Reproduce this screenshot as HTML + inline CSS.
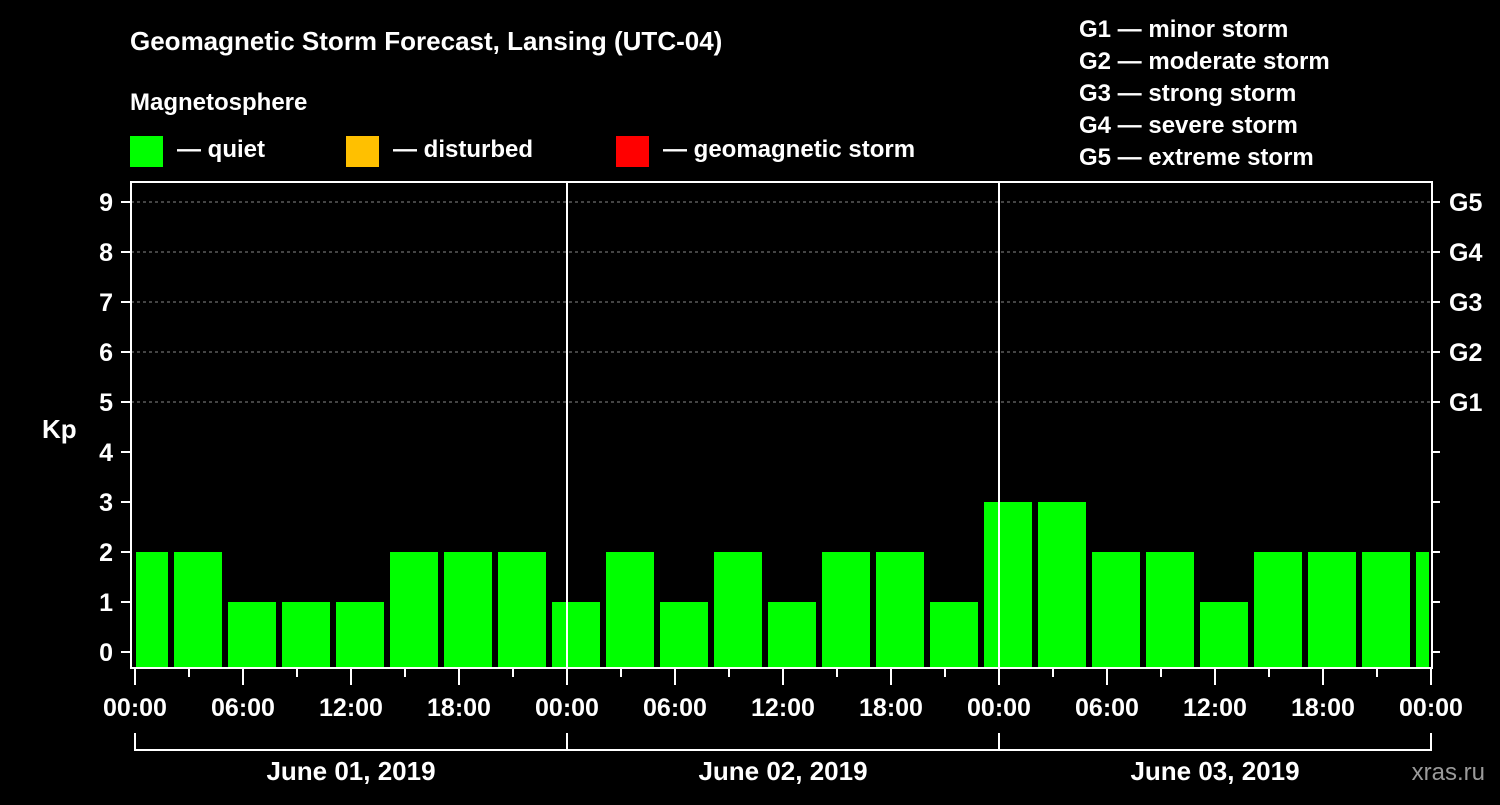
<!DOCTYPE html>
<html><head><meta charset="utf-8"><style>
body{margin:0;background:#000;width:1500px;height:800px;overflow:hidden}
svg text{font-family:"Liberation Sans",Arial,sans-serif;font-weight:bold;fill:#fff}
</style></head><body>
<svg id="c" width="1500" height="800">
<text x="130" y="50" font-size="26">Geomagnetic Storm Forecast, Lansing (UTC-04)</text>
<text x="130" y="110" font-size="24">Magnetosphere</text>
<rect x="130" y="136" width="33" height="31" fill="#00ff00"/>
<text x="177" y="157" font-size="24">— quiet</text>
<rect x="346" y="136" width="33" height="31" fill="#ffc000"/>
<text x="393" y="157" font-size="24">— disturbed</text>
<rect x="616" y="136" width="33" height="31" fill="#ff0000"/>
<text x="663" y="157" font-size="24">— geomagnetic storm</text>
<text x="1079" y="37" font-size="24">G1 — minor storm</text>
<text x="1079" y="69" font-size="24">G2 — moderate storm</text>
<text x="1079" y="101" font-size="24">G3 — strong storm</text>
<text x="1079" y="133" font-size="24">G4 — severe storm</text>
<text x="1079" y="165" font-size="24">G5 — extreme storm</text>
<text x="42" y="438" font-size="26">Kp</text>
<text x="1485" y="780" font-size="24" text-anchor="end" fill="#888" style="fill:#9a9a9a;font-weight:normal">xras.ru</text>
<g id="g"></g>
</svg>
<script>
const kpValues=[2,2,1,1,1,2,2,2,1,2,1,2,1,2,2,1,3,3,2,2,1,2,2,2,2];
const binStartHours=[-1,2,5,8,11,14,17,20,23,26,29,32,35,38,41,44,47,50,53,56,59,62,65,68,71];
const yTicks=[0,1,2,3,4,5,6,7,8,9];
const gLabels=['G1','G2','G3','G4','G5'];
const dayLabels=['June 01, 2019','June 02, 2019','June 03, 2019'];
const hourLabels=['00:00','06:00','12:00','18:00'];
const NS='http://www.w3.org/2000/svg';
const g=document.getElementById('g');
const X0=135,PXH=18,L=131,R=1432,T=182,B=668;
const x=h=>X0+h*PXH, y=v=>652-v*50;
function mk(t,a){const e=document.createElementNS(NS,t);for(const k in a)e.setAttribute(k,a[k]);g.appendChild(e);return e;}
// gridlines
for(let v=5;v<=9;v++){const e=mk('line',{x1:L,x2:R,y1:y(v),y2:y(v),stroke:'#888','stroke-dasharray':'3,3','stroke-width':1});

}
// bars
kpValues.forEach((v,i)=>{let a=Math.max(x(binStartHours[i])+3,X0+1),b=Math.min(x(binStartHours[i])+51,x(72)-2);
const c=v>=5?'#ff0000':(v>=4?'#ffc000':'#00ff00');
const e=mk('rect',{x:a,y:y(v),width:b-a,height:B-y(v),fill:c});

});
// day separators
[1,2].forEach(d=>{const e=mk('line',{x1:x(24*d),x2:x(24*d),y1:T,y2:B,stroke:'#fff','stroke-width':2});

});
// frame
const f=mk('path',{d:`M${L} ${T}H${R}V${B}H${L}Z`,fill:'none',stroke:'#fff','stroke-width':2});


yTicks.forEach(v=>{mk('line',{x1:L-10,x2:L,y1:y(v),y2:y(v),stroke:'#fff','stroke-width':2});
mk('line',{x1:R,x2:R+8,y1:y(v),y2:y(v),stroke:'#fff','stroke-width':2});
const t=mk('text',{x:L-18,y:y(v)+9,'font-size':25,'text-anchor':'end'});t.textContent=v;

});
gLabels.forEach((s,i)=>{const t=mk('text',{x:1449,y:y(5+i)+9,'font-size':25});t.textContent=s;

});
for(let h=0;h<=72;h+=3){const big=h%6==0;mk('line',{x1:x(h),x2:x(h),y1:B,y2:B+(big?17:9),stroke:'#fff','stroke-width':2});
if(big){const t=mk('text',{x:x(h),y:716,'font-size':25,'text-anchor':'middle'});t.textContent=hourLabels[(h%24)/6];

}}
mk('path',{d:`M${x(0)} 733V750H${x(72)}V733M${x(24)} 733V750M${x(48)} 733V750`,fill:'none',stroke:'#fff','stroke-width':2});
dayLabels.forEach((s,i)=>{const t=mk('text',{x:x(24*i+12),y:780,'font-size':26,'text-anchor':'middle'});t.textContent=s;

});
</script>
</body></html>
